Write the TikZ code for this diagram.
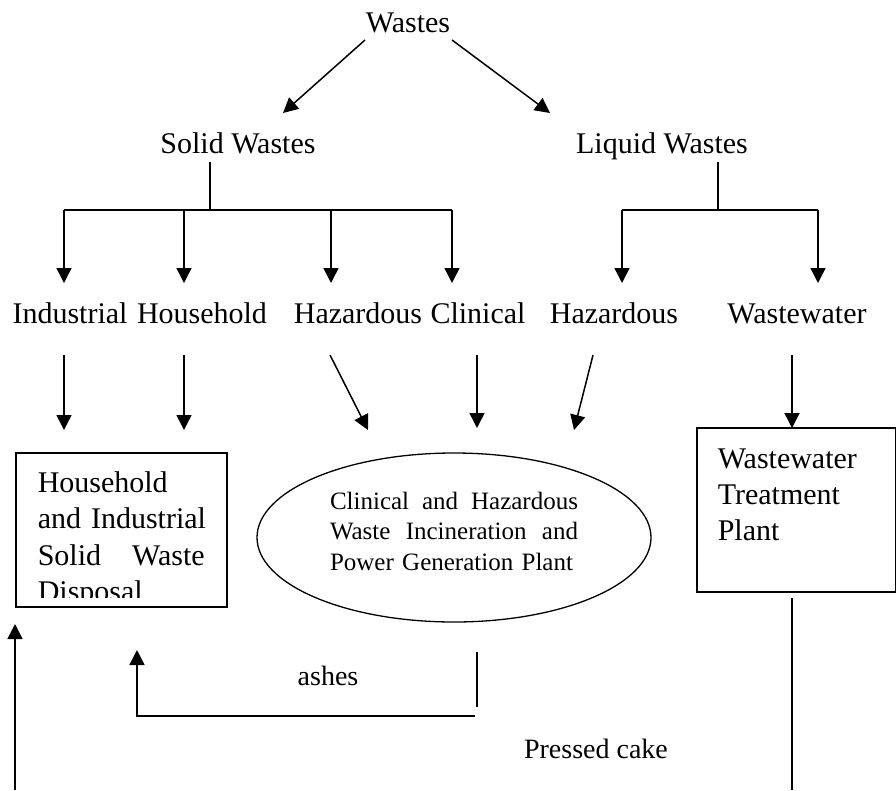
\documentclass[tikz,border=0pt]{standalone}
\usepackage{fontspec}
\setmainfont{Liberation Serif}
\usetikzlibrary{arrows.meta,shapes.geometric}
\begin{document}
\begin{tikzpicture}[x=1pt,y=-1pt,
  every node/.style={inner sep=0pt},
  lbl/.style={anchor=base, font=\fontsize{30}{36}\selectfont},
  note/.style={anchor=base, font=\fontsize{28}{34}\selectfont},
  conn/.style={line width=1.5pt},
  arr/.style={conn,-{Triangle[length=15pt,width=15pt]}},
  plantbox/.style={draw, line width=1.5pt, anchor=base west, inner ysep=0pt, align=left}
  ]
\useasboundingbox (0,0) rectangle (896,790);

% labels
\node[lbl] (wastes) at (408,32) {Wastes};
\node[lbl] (solid) at (238,153) {Solid Wastes};
\node[lbl] (liquid) at (662,153) {Liquid Wastes};
\node[lbl] (ind) at (70,323) {Industrial};
\node[lbl] (hou) at (202,323) {Household};
\node[lbl] (haz1) at (358,323) {Hazardous};
\node[lbl] (cli) at (478,323) {Clinical};
\node[lbl] (haz2) at (614,323) {Hazardous};
\node[lbl] (ww) at (797,323) {Wastewater};

% boxes
\node[plantbox, inner xsep=22pt, text width=167pt, text height=39pt, text depth=115pt,
      font=\fontsize{30}{36.5}\selectfont] (lbox) at (15,492)
  {\mbox{Household}\\\mbox{and Industrial}\\Solid\hfill Waste\\\mbox{Disposal}};
\fill[white] (16.5,598) rectangle (224.5,605.6);

\node[plantbox, inner xsep=21pt, text width=157pt, text height=40pt, text depth=124pt,
      font=\fontsize{30}{36}\selectfont] (rbox) at (696,468)
  {\mbox{Wastewater}\\\mbox{Treatment}\\\mbox{Plant}};

\node[draw, ellipse, line width=1.3pt, minimum width=394pt, minimum height=169pt,
      text width=248pt, align=left, text height=17pt, text depth=74pt,
      font=\fontsize{25}{30.5}\selectfont] (inc) at (454,537.5)
  {Clinical\hfill and\hfill Hazardous\\Waste\hfill Incineration\hfill and\\\mbox{Power Generation Plant}};

\node[note] (ashes) at (328,685) {ashes};
\node[note] (cake) at (596,758) {Pressed cake};

% coordinates
\coordinate (w1) at (365,40);  \coordinate (w1e) at (283,113);
\coordinate (w2) at (452,40);  \coordinate (w2e) at (550,113);
\coordinate (sv) at (210,162); \coordinate (sj) at (210,210);
\coordinate (sa) at (64,210);  \coordinate (sb) at (184,210);
\coordinate (sc) at (331,210); \coordinate (sd) at (452,210);
\coordinate (lv) at (718,162); \coordinate (lj) at (718,210);
\coordinate (la) at (622,210); \coordinate (lb) at (818,210);
\coordinate (a1) at (64,355);  \coordinate (a1e) at (64,430);
\coordinate (a2) at (184,355); \coordinate (a2e) at (184,430);
\coordinate (a3) at (330,355); \coordinate (a3e) at (368,430);
\coordinate (a4) at (477,355); \coordinate (a4e) at (477,428);
\coordinate (a5) at (593,355); \coordinate (a5e) at (574,430);
\coordinate (a6) at (792,355); \coordinate (a6e) at (792,428);
\coordinate (pc1) at (792,598); \coordinate (pc2) at (792,790);
\coordinate (up1) at (15,790);  \coordinate (up1e) at (15,624);
\coordinate (as1) at (477,652); \coordinate (as2) at (477,707);
\coordinate (ab1) at (475,716); \coordinate (ab2) at (137,716); \coordinate (ab3) at (137,650);

% connectors
\draw[arr] (w1) -- (w1e);
\draw[arr] (w2) -- (w2e);
\draw[conn] (sv) -- (sj);
\draw[conn] (sa) -- (sd);
\draw[arr] (sa) -- ++(0,73);
\draw[arr] (sb) -- ++(0,73);
\draw[arr] (sc) -- ++(0,73);
\draw[arr] (sd) -- ++(0,73);
\draw[conn] (lv) -- (lj);
\draw[conn] (la) -- (lb);
\draw[arr] (la) -- ++(0,73);
\draw[arr] (lb) -- ++(0,73);
\draw[arr] (a1) -- (a1e);
\draw[arr] (a2) -- (a2e);
\draw[arr] (a3) -- (a3e);
\draw[arr] (a4) -- (a4e);
\draw[arr] (a5) -- (a5e);
\draw[arr] (a6) -- (a6e);
\draw[conn] (pc1) -- (pc2);
\draw[arr] (up1) -- (up1e);
\draw[conn] (as1) -- (as2);
\draw[arr] (ab1) -- (ab2) -- (ab3);
\end{tikzpicture}
\end{document}
